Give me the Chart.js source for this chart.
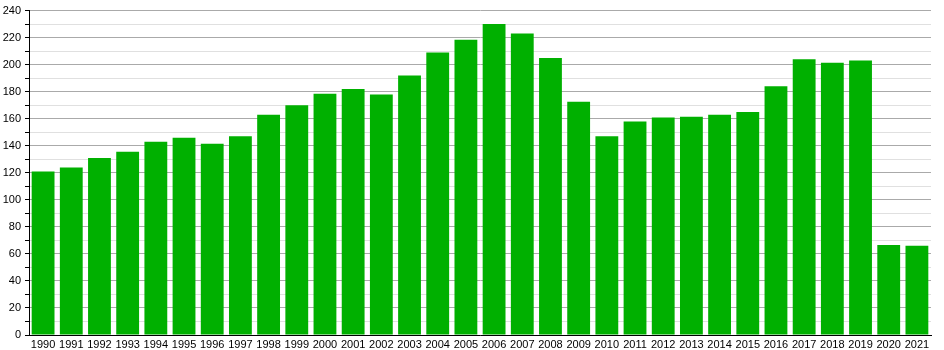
<!DOCTYPE html>
<html>
<head>
<meta charset="utf-8">
<script src="https://cdn.jsdelivr.net/npm/chart.js@4"></script>
<style>
  html, body { margin: 0; padding: 0; background: #fff; }
  #wrap { width: 944px; height: 350px; }
</style>
</head>
<body>
<div id="wrap"><canvas id="chart" width="944" height="350"></canvas></div>
<script>
// yearly values
const years = ['1990', '1991', '1992', '1993', '1994', '1995', '1996', '1997', '1998', '1999',
  '2000', '2001', '2002', '2003', '2004', '2005', '2006', '2007', '2008', '2009',
  '2010', '2011', '2012', '2013', '2014', '2015', '2016', '2017', '2018', '2019',
  '2020', '2021'];
const values = [121, 124, 131, 135.5, 143, 146, 141.5, 147, 163, 170,
  178.5, 182, 178, 192, 209, 218.5, 230, 223, 205, 172.5,
  147, 158, 161, 161.5, 163, 165, 184, 204, 201.5, 203,
  66.5, 66];
const yMax = 240;

const ctx = document.getElementById('chart').getContext('2d');
Chart.defaults.font.family = '"Liberation Sans", Arial, sans-serif';
Chart.defaults.font.size = 11;
Chart.defaults.color = '#000';

new Chart(ctx, {
  type: 'bar',
  data: {
    labels: years,
    datasets: [{ data: values, backgroundColor: '#00b000', borderWidth: 0, barPercentage: 0.81, categoryPercentage: 1 }]
  },
  options: {
    responsive: false,
    animation: false,
    layout: { padding: { top: 6, right: 13, bottom: 0, left: 0 } },
    plugins: { legend: { display: false }, tooltip: { enabled: false } },
    scales: {
      x: {
        afterFit: (scale) => { scale.height = 15; },
        grid: { display: false, drawTicks: false },
        border: { color: '#000', width: 1 },
        ticks: { maxRotation: 0, autoSkip: false, padding: 3 }
      },
      y: {
        min: 0,
        max: yMax,
        afterFit: (scale) => { scale.width = 29; },
        grid: {
          color: (c) => (c.tick && c.tick.value % 20 === 0) ? '#aaaaaa' : '#e0e0e0',
          tickColor: '#000',
          tickLength: 4
        },
        border: { color: '#000', width: 1 },
        ticks: {
          stepSize: 10,
          autoSkip: false,
          padding: 4,
          callback: (v) => (v % 20 === 0 ? v : '')
        }
      }
    }
  }
});
</script>
</body>
</html>
